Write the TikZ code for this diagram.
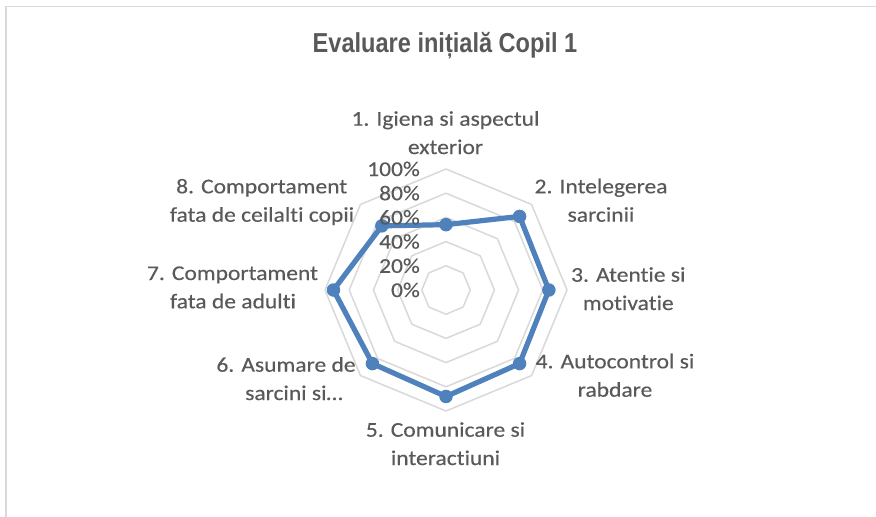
\documentclass[tikz,border=0pt]{standalone}
\usepackage{fontspec}
\setmainfont{Carlito}[FakeStretch=1.12, FakeBold=0.3, Ligatures=NoCommon]
\newfontfamily\titlefont{Liberation Sans}[FakeStretch=0.86]
\definecolor{txt}{HTML}{595959}
\definecolor{gridc}{HTML}{D9D9D9}
\definecolor{ser}{HTML}{4F81BD}
\tikzset{
  catlabel/.style={anchor=base, text=txt, inner sep=0pt, font=\fontsize{21}{28}\selectfont},
  axlabel/.style={anchor=base east, text=txt, inner sep=0pt, font=\fontsize{21}{28}\selectfont},
  ringline/.style={draw=gridc, line width=1.5pt, line join=round},
  serline/.style={draw=ser, line width=5.2pt, line join=round},
  dot/.style={circle, fill=ser, inner sep=0pt, minimum size=13.5pt},
}
\begin{document}
\begin{tikzpicture}[x=1pt,y=-1pt]
\useasboundingbox (0,0) rectangle (876,517);
\fill[white] (0,0) rectangle (876,517);
\draw[gridc, line width=1.5pt] (6,517) -- (6,6.5) -- (876,6.5);

\node[anchor=base, text=txt, inner sep=0pt, font=\titlefont\bfseries\fontsize{27.4}{32}\selectfont] (title) at (445,52.3) {Evaluare inițială Copil 1};

\begin{scope}[shift={(446,290)}]
  \foreach \k in {1,...,5} {
    \pgfmathsetmacro{\rr}{24.2*\k}
    \draw[ringline] (-90:\rr) -- (-45:\rr) -- (0:\rr) -- (45:\rr) -- (90:\rr) -- (135:\rr) -- (180:\rr) -- (225:\rr) -- cycle;
  }
  \coordinate (p1) at (-90:{121*0.54});
  \coordinate (p2) at (-45:{121*0.86});
  \coordinate (p3) at (0:{121*0.85});
  \coordinate (p4) at (45:{121*0.86});
  \coordinate (p5) at (90:{121*0.88});
  \coordinate (p6) at (135:{121*0.86});
  \coordinate (p7) at (180:{121*0.93});
  \coordinate (p8) at (225:{121*0.75});
  \draw[serline] (p1) -- (p2) -- (p3) -- (p4) -- (p5) -- (p6) -- (p7) -- (p8) -- cycle;
  \foreach \i in {1,...,8} { \node[dot] (m\i) at (p\i) {}; }
\end{scope}

\node[axlabel] (a0) at (420,297) {0\%};
\node[axlabel] (a20) at (420,272.8) {20\%};
\node[axlabel] (a40) at (420,248.6) {40\%};
\node[axlabel] (a60) at (420,224.4) {60\%};
\node[axlabel] (a80) at (420,200.2) {80\%};
\node[axlabel] (a100) at (420,176) {100\%};

\node[catlabel] (l1a) at (445.5,125.7) {1. Igiena si aspectul};
\node[catlabel] (l1b) at (445.5,154) {exterior};
\node[catlabel] (l2a) at (601,193.3) {2. Intelegerea};
\node[catlabel] (l2b) at (601,221.7) {sarcinii};
\node[catlabel] (l3a) at (628.3,281.7) {3. Atentie si};
\node[catlabel] (l3b) at (628.3,310) {motivatie};
\node[catlabel] (l4a) at (615,368.3) {4. Autocontrol si};
\node[catlabel] (l4b) at (615,396.7) {rabdare};
\node[catlabel] (l5a) at (445.5,436.7) {5. Comunicare si};
\node[catlabel] (l5b) at (445.5,465) {interactiuni};
\node[catlabel] (l6a) at (286,371.7) {6. Asumare de};
\node[catlabel] (l6b) at (294,400) {sarcini si…};
\node[catlabel] (l7a) at (232.5,280) {7. Comportament};
\node[catlabel] (l7b) at (233,308.3) {fata de adulti};
\node[catlabel] (l8a) at (261.7,193.3) {8. Comportament};
\node[catlabel] (l8b) at (262,221.7) {fata de ceilalti copii};
\end{tikzpicture}
\end{document}
